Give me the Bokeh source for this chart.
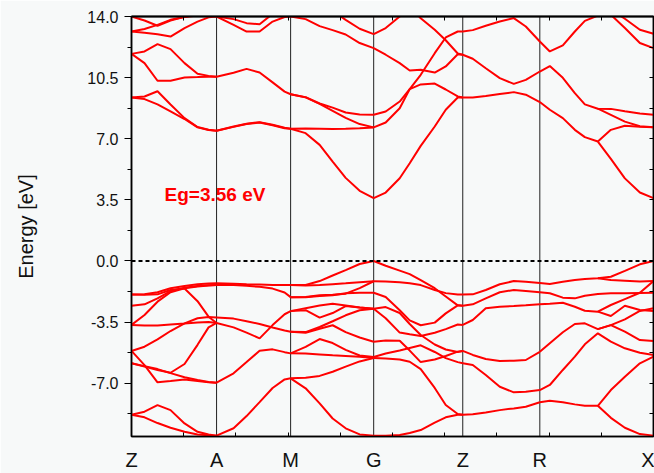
from bokeh.plotting import figure
from bokeh.models import (Range1d, FixedTicker, LinearAxis, Span, ColumnDataSource, Label,
                          PrintfTickFormatter)
from bokeh.embed import file_html
from bokeh.resources import INLINE

N = None
# high-symmetry points along the k-path
K_SYM = [0.0, 0.85, 1.59, 2.42, 3.31, 4.08, 5.216]
SYM_LABELS = ["Z", "A", "M", "G", "Z", "R", "X"]
EG_TEXT = "Eg=3.56 eV"

# k grids per segment
K_ZA = [0.0, 0.13, 0.26, 0.39, 0.53, 0.66, 0.77, 0.85]
K_AM = [0.85, 1.02, 1.15, 1.28, 1.41, 1.53, 1.59]
K_MG = [1.59, 1.74, 1.88, 2.01, 2.14, 2.28, 2.42]
K_GZ = [2.42, 2.54, 2.68, 2.78, 2.89, 3.03, 3.14, 3.26, 3.31]
K_ZR = [3.31, 3.41, 3.54, 3.68, 3.82, 3.94, 4.08]
K_RX = [4.08, 4.18, 4.31, 4.43, 4.53, 4.66, 4.79, 4.93, 5.08, 5.216]

# energies (eV) of each band on each segment
E_ZA = [
    [9.36, 9.42, 9.72, 8.96, 8.18, 7.67, 7.51, 7.46],
    [9.36, 9.27, 8.97, 8.57, 8.13, 7.65, 7.50, 7.46],
    [11.86, 12.00, 12.42, 12.13, 11.33, 10.72, 10.60, 10.55],
    [11.86, 11.33, 10.32, 10.32, 10.51, 10.53, 10.55, 10.55],
    [13.14, 13.28, 13.52, 13.81, 13.97, 14.05, 14.05, 14.00],
    [13.14, 13.07, 12.98, 12.85, 13.34, 13.71, 13.95, 14.00],
    [14.00, 13.77, 13.47, 13.77, 13.98, 14.10, 14.10, 14.05],
    [-1.92, -1.91, -1.79, -1.56, -1.43, -1.33, -1.29, -1.28],
    [-1.92, -1.93, -1.91, -1.66, -1.58, -2.30, -3.19, -3.55],
    [-2.56, -2.48, -2.14, -1.72, -1.53, -1.43, -1.39, -1.37],
    [-3.66, -3.09, -2.33, -1.79, -1.56, -1.46, -1.40, -1.37],
    [-3.66, -3.70, -3.70, -3.64, -3.58, -3.52, -3.50, -3.55],
    [-5.15, -4.91, -4.49, -4.01, -3.57, -3.28, -3.21, -3.23],
    [-5.15, -5.96, -6.95, -6.87, -6.78, -6.87, -6.95, -6.97],
    [-5.86, -6.05, -6.24, -6.40, -5.90, -4.80, -3.80, -3.55],
    [-5.86, -6.02, -6.19, -6.42, -6.66, -6.82, -6.93, -6.97],
    [-8.80, -8.63, -8.25, -8.54, -9.30, -9.78, -9.94, -10.00],
    [-8.80, -8.95, -9.28, -9.55, -9.78, -9.93, -9.98, -10.00],
]
E_AM = [
    [7.46, 7.70, 7.86, 7.95, 7.80, 7.63, 7.57],
    [7.46, 7.68, 7.84, 7.93, 7.77, 7.60, 7.57],
    [10.55, 10.78, 11.00, 10.79, 10.23, 9.70, 9.55],
    [14.00, 13.85, 13.62, 13.56, 14.15, 14.50, 14.60],
    [14.00, 13.52, 13.14, 13.14, 13.71, 13.97, 14.00],
    [-1.28, -1.30, -1.33, -1.35, -1.38, -1.38, -1.37],
    [-1.37, -1.38, -1.42, -1.48, -1.58, -1.80, -2.07],
    [-3.23, -3.30, -3.45, -3.61, -3.81, -3.98, -4.05],
    [-3.55, -3.80, -4.10, -4.43, -3.67, -3.05, -2.87],
    [-6.97, -6.43, -5.79, -5.14, -5.06, -5.22, -5.29],
    [-10.00, -9.58, -8.88, -8.08, -7.27, -6.78, -6.72],
]
E_MG = [
    [7.57, 7.32, 6.65, 5.69, 4.76, 4.02, 3.60],
    [7.57, 7.58, 7.57, 7.56, 7.57, 7.60, 7.65],
    [9.55, 9.38, 9.02, 8.78, 8.50, 8.39, 8.37],
    [9.55, 9.37, 9.00, 8.60, 8.20, 7.84, 7.65],
    [14.00, 13.85, 13.45, 13.22, 12.97, 12.48, 12.19],
    [N, N, N, 14.32, 13.81, 13.30, 12.99],
    [-1.37, -1.37, -1.15, -0.83, -0.52, -0.17, 0.00],
    [-1.37, -1.40, -1.38, -1.33, -1.28, -1.22, -1.16],
    [-2.07, -2.06, -1.96, -1.93, -1.87, -1.55, -1.16],
    [-2.07, -2.08, -2.01, -1.96, -1.85, -1.82, -1.82],
    [-2.87, -2.82, -3.24, -2.98, -2.58, -2.66, -2.73],
    [-2.87, -2.70, -2.55, -2.45, -2.55, -2.66, -2.73],
    [-4.05, -4.07, -3.78, -3.45, -3.11, -2.82, -2.73],
    [-4.05, -4.11, -3.88, -3.68, -4.07, -4.38, -4.62],
    [-5.29, -4.92, -4.47, -4.70, -5.09, -5.41, -5.50],
    [-5.29, -5.30, -5.35, -5.40, -5.44, -5.49, -5.56],
    [-6.72, -6.68, -6.58, -6.34, -6.05, -5.75, -5.56],
    [-6.72, -7.29, -8.15, -9.02, -9.58, -9.93, -10.00],
]
E_GZ = [
    [3.60, 3.92, 4.74, 5.60, 6.59, 7.70, 8.66, 9.36, 9.36],
    [7.65, 7.93, 8.75, 9.84, 10.66, 11.90, 12.80, 13.14, 13.14],
    [8.37, 8.56, 9.13, 9.84, 10.11, 10.16, 9.82, 9.42, 9.36],
    [12.19, 11.81, 11.33, 10.91, 10.95, 10.79, 11.14, 11.84, 11.81],
    [12.99, 13.34, 14.00, 14.50, N, N, N, N, N],
    [N, N, N, 14.60, 13.90, 13.24, 12.64, 11.88, 11.81],
    [0.00, -0.27, -0.55, -0.75, -1.10, -1.56, -2.03, -2.54, -2.56],
    [-1.16, -1.17, -1.22, -1.27, -1.38, -1.66, -1.84, -1.92, -1.92],
    [-1.82, -2.06, -2.82, -3.40, -3.68, -3.53, -3.00, -2.54, -2.56],
    [-2.73, -3.28, -4.10, -4.20, -4.30, -4.11, -3.90, -3.64, -3.66],
    [-2.73, -2.64, -2.98, -3.61, -4.24, -4.78, -5.07, -5.21, -5.15],
    [-4.62, -4.55, -4.57, -5.13, -5.79, -5.64, -5.44, -5.19, -5.15],
    [-5.50, -5.30, -5.12, -4.98, -4.83, -5.21, -5.56, -5.79, -5.86],
    [-5.56, -5.59, -5.64, -5.77, -6.19, -7.27, -8.25, -8.76, -8.80],
    [-10.00, -10.00, -9.96, -9.85, -9.68, -9.25, -8.95, -8.80, -8.80],
]
E_ZR = [
    [9.36, 9.36, 9.45, 9.56, 9.67, 9.52, 9.10],
    [11.81, 11.58, 11.04, 10.47, 10.14, 10.37, 10.85],
    [13.14, 13.22, 13.47, 13.71, 13.91, 13.43, 12.57],
    [-1.92, -1.91, -1.66, -1.33, -1.15, -1.19, -1.26],
    [-2.56, -2.48, -2.14, -1.79, -1.66, -1.72, -1.79],
    [-3.66, -3.38, -2.71, -2.62, -2.58, -2.54, -2.48],
    [-5.15, -5.38, -5.61, -5.73, -5.71, -5.67, -5.20],
    [-5.86, -5.96, -6.53, -7.20, -7.52, -7.49, -7.39],
    [-8.80, -8.78, -8.67, -8.54, -8.44, -8.35, -8.09],
]
E_RX = [
    [12.57, 12.00, 12.35, 13.14, 13.75, 14.05, 14.40, N, N, N],
    [N, N, N, N, N, N, 14.40, 13.87, 13.24, 13.01],
    [N, N, N, N, N, 14.60, 14.10, 13.34, 12.48, 12.19],
    [10.85, 11.16, 10.49, 9.61, 8.97, 8.72, 8.71, 8.57, 8.45, 8.37],
    [N, N, N, N, N, 8.72, 8.37, 7.98, 7.72, 7.66],
    [9.10, 8.66, 8.18, 7.51, 7.09, 6.84, 5.85, 4.73, 3.92, 3.60],
    [N, N, N, N, N, 6.84, 7.51, 7.74, 7.69, 7.66],
    [-1.26, -1.32, -1.19, -1.09, -1.03, -0.99, -0.90, -0.57, -0.19, 0.00],
    [N, N, N, N, N, -0.99, -1.09, -1.13, -1.18, -1.15],
    [-1.79, -1.85, -2.10, -2.14, -1.99, -1.89, -1.85, -1.85, -1.83, -1.82],
    [-2.48, -2.45, -2.39, -2.62, -2.85, -2.90, -3.15, -2.56, -2.81, -2.86],
    [N, N, N, N, N, -2.90, -2.52, -2.18, -1.82, -1.15],
    [-5.20, -4.71, -4.08, -3.61, -3.57, -3.90, -3.67, -3.34, -2.86, -2.71],
    [N, N, N, N, N, -3.90, -3.67, -4.05, -4.53, -4.58],
    [-7.39, -7.10, -6.24, -5.48, -4.77, -4.14, -4.62, -5.00, -5.25, -5.38],
    [-8.09, -8.00, -8.09, -8.21, -8.29, -8.29, -7.39, -6.63, -5.86, -5.48],
    [N, N, N, N, N, -8.29, -8.98, -9.55, -9.91, -10.00],
]

Y_MAJOR = [-7.0, -3.5, 0.0, 3.5, 7.0, 10.5, 14.0]
Y_MINOR = [-8.75, -5.25, -1.75, 1.75, 5.25, 8.75, 12.25]

SEGMENTS = [(K_ZA, E_ZA), (K_AM, E_AM), (K_MG, E_MG), (K_GZ, E_GZ), (K_ZR, E_ZR), (K_RX, E_RX)]

xs, ys = [], []
for grid, bands in SEGMENTS:
    for band in bands:
        pts = [(k, e) for k, e in zip(grid, band) if e is not None]
        xs.append([q[0] for q in pts])
        ys.append([q[1] for q in pts])
src = ColumnDataSource(dict(xs=xs, ys=ys))

BG = "#f7f9f9"
FONT = "Liberation Sans"

p = figure(width=654, height=473, output_backend="svg", toolbar_location=None,
           x_range=Range1d(K_SYM[0], K_SYM[-1]), y_range=Range1d(-10.05, 14.0),
           min_border_left=131, min_border_right=1, min_border_top=16, min_border_bottom=37)
p.background_fill_color = BG
p.border_fill_color = BG
p.xgrid.visible = False
p.ygrid.visible = False
p.outline_line_color = "black"
p.outline_line_width = 1.5

# vertical lines at high-symmetry points
for k in K_SYM[1:-1]:
    p.add_layout(Span(location=k, dimension="height", line_color="#222222", line_width=1, level="underlay"))

p.multi_line(xs="xs", ys="ys", source=src, line_color="#ff0000", line_width=2)

p.add_layout(Span(location=0.0, dimension="width", line_color="black", line_width=2, line_dash="4 3"))

# tick positions along k (ten equal divisions)
step = K_SYM[-1] / 10.0
x_minor = [step * i for i in range(1, 10)]

xa = p.xaxis[0]
xa.ticker = FixedTicker(ticks=K_SYM, minor_ticks=x_minor)
xa.major_label_overrides = {k: s for k, s in zip(K_SYM, SYM_LABELS)}
xa.major_tick_in = 0
xa.major_tick_out = 0
xa.minor_tick_in = 4
xa.minor_tick_out = 0
xa.major_label_text_font = FONT
xa.major_label_text_font_size = "20px"
xa.major_label_text_color = "#111111"
xa.major_label_standoff = 12
xa.axis_line_width = 1.5

ya = p.yaxis[0]
ya.ticker = FixedTicker(ticks=Y_MAJOR, minor_ticks=Y_MINOR)
ya.formatter = PrintfTickFormatter(format="%.1f")
ya.major_tick_in = 0
ya.major_tick_out = 7
ya.minor_tick_in = 0
ya.minor_tick_out = 4
ya.major_label_text_font = FONT
ya.major_label_text_font_size = "16px"
ya.major_label_text_color = "#111111"
ya.major_label_standoff = 6
ya.axis_label = "Energy [eV]"
ya.axis_label_text_font = FONT
ya.axis_label_text_font_size = "20px"
ya.axis_label_text_font_style = "normal"
ya.axis_label_text_color = "#111111"
ya.axis_label_standoff = 47
ya.axis_line_width = 1.5

top = LinearAxis(ticker=FixedTicker(ticks=x_minor, minor_ticks=[]))
top.major_tick_in = 4
top.major_tick_out = 0
top.major_label_text_font_size = "0px"
top.major_label_standoff = 0
top.axis_line_width = 2
p.add_layout(top, "above")

right = LinearAxis(ticker=FixedTicker(ticks=sorted(Y_MAJOR + Y_MINOR), minor_ticks=[]))
right.major_tick_in = 4
right.major_tick_out = 0
right.major_label_text_font_size = "0px"
right.major_label_standoff = 0
right.axis_line_width = 1.5
p.add_layout(right, "right")

p.add_layout(Label(x=0.33, y=3.8, text=EG_TEXT, text_color="#ff0000", text_font=FONT,
                   text_font_size="19px", text_font_style="bold", text_baseline="middle"))

open("out.html", "w").write(file_html(p, INLINE))
